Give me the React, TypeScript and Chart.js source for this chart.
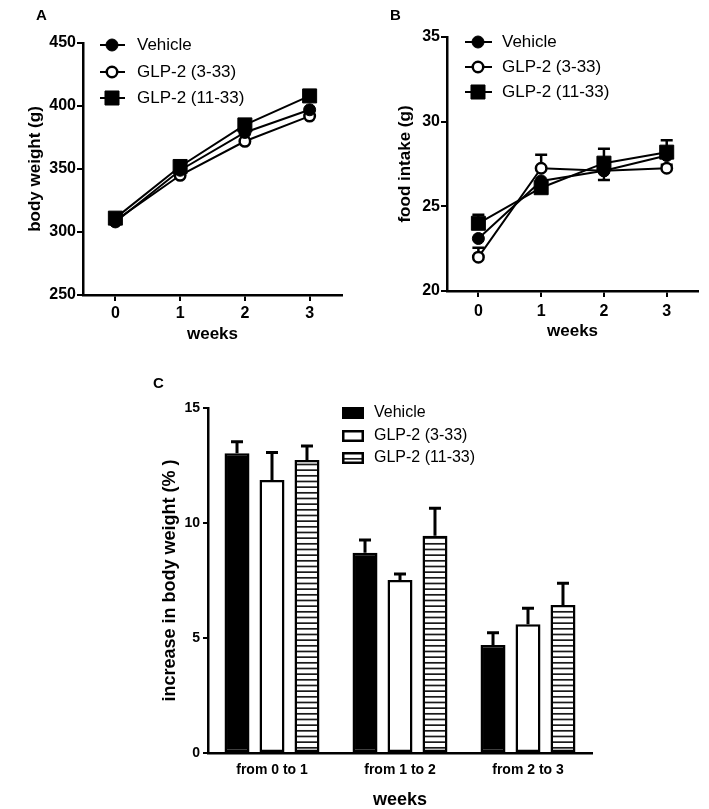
import React, { useEffect, useRef } from 'react';
import { Chart, registerables } from 'chart.js';

Chart.register(...registerables);

const FONT = "Arial, 'Liberation Sans', sans-serif";
Chart.defaults.font.family = FONT;
Chart.defaults.color = '#000';

// ---------- data ----------
const weeks = ['0', '1', '2', '3'];
const seriesNames = ['Vehicle', 'GLP-2 (3-33)', 'GLP-2 (11-33)'];

// Panel A: body weight (g)
const bwVehicle = [308, 349, 379, 397];
const bw3_33 = [309, 345, 372, 392];
const bw11_33 = [311, 352, 385, 408];

// Panel B: food intake (g)
const fiVehicle = [23.1, 26.5, 27.1, 28.0];
const fi3_33 = [22.0, 27.25, 27.1, 27.25];
const fi11_33 = [24.0, 26.1, 27.55, 28.2];
// signed: positive = bar drawn upward, negative = downward
const fiErrVehicle = [0, 0, -0.55, 0];
const fiErr3_33 = [0.55, 0.8, 0, 0.2];
const fiErr11_33 = [0.5, 0.3, 0.85, 0.7];

// Panel C: increase in body weight (%)
const periods = ['from 0 to 1', 'from 1 to 2', 'from 2 to 3'];
const incVehicle = [13.03, 8.71, 4.7];
const inc3_33 = [11.87, 7.52, 5.6];
const inc11_33 = [12.74, 9.45, 6.43];
const incErrVehicle = [0.5, 0.55, 0.53];
const incErr3_33 = [1.19, 0.26, 0.69];
const incErr11_33 = [0.61, 1.19, 0.95];

// ---------- helpers ----------
function makeHatch(): CanvasPattern | string {
  const c = document.createElement('canvas');
  c.width = 8;
  c.height = 17;
  const g = c.getContext('2d');
  if (!g) return '#888';
  g.fillStyle = '#fff';
  g.fillRect(0, 0, 8, 17);
  g.fillStyle = '#1a1a1a';
  [0.3, 5.97, 11.63].forEach((y) => g.fillRect(0, y, 8, 1.7));
  return g.createPattern(c, 'repeat') || '#888';
}

function drawPt(ctx: CanvasRenderingContext2D, ds: any, x: number, y: number) {
  const r = ds.pointRadius;
  ctx.beginPath();
  if (ds.pointStyle === 'rect') {
    const s = r * Math.SQRT1_2;
    ctx.rect(x - s, y - s, 2 * s, 2 * s);
  } else {
    ctx.arc(x, y, r, 0, Math.PI * 2);
  }
  ctx.fillStyle = ds.pointBackgroundColor;
  ctx.fill();
  ctx.lineWidth = ds.pointBorderWidth;
  ctx.strokeStyle = ds.pointBorderColor;
  ctx.stroke();
}

function lineLegend(id: string, x0: number, x1: number, mx: number, tx: number, rows: number[], fontSize: number) {
  return {
    id,
    afterDraw(chart: any) {
      const ctx: CanvasRenderingContext2D = chart.ctx;
      ctx.save();
      chart.data.datasets.forEach((ds: any, i: number) => {
        const y = rows[i];
        ctx.strokeStyle = '#000';
        ctx.lineWidth = 2;
        ctx.beginPath();
        ctx.moveTo(x0, y);
        ctx.lineTo(x1, y);
        ctx.stroke();
        drawPt(ctx, ds, mx, y);
        ctx.fillStyle = '#000';
        ctx.font = `${fontSize}px ${FONT}`;
        ctx.textAlign = 'left';
        ctx.textBaseline = 'middle';
        ctx.fillText(ds.label, tx, y);
      });
      ctx.restore();
    },
  };
}

const lineErrorBars = {
  id: 'lineErrorBars',
  beforeDatasetsDraw(chart: any) {
    const ctx: CanvasRenderingContext2D = chart.ctx;
    const yScale = chart.scales.y;
    ctx.save();
    ctx.strokeStyle = '#000';
    ctx.lineWidth = 2.5;
    chart.data.datasets.forEach((ds: any, di: number) => {
      if (!ds.errors) return;
      const meta = chart.getDatasetMeta(di);
      meta.data.forEach((pt: any, i: number) => {
        const e = ds.errors[i];
        if (!e) return;
        const y0 = yScale.getPixelForValue(ds.data[i]);
        const y1 = yScale.getPixelForValue(ds.data[i] + e);
        ctx.beginPath();
        ctx.moveTo(pt.x, y0);
        ctx.lineTo(pt.x, y1);
        ctx.moveTo(pt.x - 6, y1);
        ctx.lineTo(pt.x + 6, y1);
        ctx.stroke();
      });
    });
    ctx.restore();
  },
};

const barErrorBars = {
  id: 'barErrorBars',
  afterDatasetsDraw(chart: any) {
    const ctx: CanvasRenderingContext2D = chart.ctx;
    const yScale = chart.scales.y;
    ctx.save();
    ctx.strokeStyle = '#000';
    ctx.lineWidth = 3;
    chart.data.datasets.forEach((ds: any, di: number) => {
      const meta = chart.getDatasetMeta(di);
      meta.data.forEach((bar: any, i: number) => {
        const e = ds.errors[i];
        const y0 = yScale.getPixelForValue(ds.data[i]);
        const y1 = yScale.getPixelForValue(ds.data[i] + e);
        ctx.beginPath();
        ctx.moveTo(bar.x, y0);
        ctx.lineTo(bar.x, y1);
        ctx.moveTo(bar.x - 6, y1);
        ctx.lineTo(bar.x + 6, y1);
        ctx.stroke();
      });
    });
    ctx.restore();
  },
};

function barLegend(x: number, w: number, h: number, tx: number, rows: number[], fontSize: number) {
  return {
    id: 'barLegend',
    afterDraw(chart: any) {
      const ctx: CanvasRenderingContext2D = chart.ctx;
      ctx.save();
      chart.data.datasets.forEach((ds: any, i: number) => {
        const y = rows[i];
        ctx.fillStyle = ds.backgroundColor;
        ctx.fillRect(x, y - h / 2, w, h);
        ctx.lineWidth = 2.5;
        ctx.strokeStyle = '#000';
        ctx.strokeRect(x + 1.25, y - h / 2 + 1.25, w - 2.5, h - 2.5);
        ctx.fillStyle = '#000';
        ctx.font = `${fontSize}px ${FONT}`;
        ctx.textAlign = 'left';
        ctx.textBaseline = 'middle';
        ctx.fillText(ds.label, tx, y);
      });
      ctx.restore();
    },
  };
}

function lineDatasets(v: number[], c: number[], s: number[], ev?: number[], ec?: number[], es?: number[]) {
  const base = { borderColor: '#000', borderWidth: 2, tension: 0, pointBorderColor: '#000' };
  return [
    { ...base, label: seriesNames[0], data: v, errors: ev, pointStyle: 'circle', pointRadius: 6, pointBackgroundColor: '#000', pointBorderWidth: 1, order: 1 },
    { ...base, label: seriesNames[1], data: c, errors: ec, pointStyle: 'circle', pointRadius: 5.25, pointBackgroundColor: '#fff', pointBorderWidth: 2.5, order: 2 },
    { ...base, label: seriesNames[2], data: s, errors: es, pointStyle: 'rect', pointRadius: 9.9, pointBackgroundColor: '#000', pointBorderWidth: 1, order: 0 },
  ];
}

function lineOptions(p: {
  padTop: number; padRight: number; yWidth: number; xHeight: number;
  yTitle: string; yTitlePad: number; xTitlePad: number; xTickPad: number;
  min: number; max: number; step: number;
}) {
  return {
    responsive: false,
    animation: false as const,
    events: [],
    layout: { padding: { left: 0, top: p.padTop, right: p.padRight, bottom: 0 } },
    plugins: { legend: { display: false }, tooltip: { enabled: false } },
    scales: {
      x: {
        type: 'category' as const,
        offset: true,
        grid: { offset: false, drawOnChartArea: false, color: '#000', lineWidth: 2, tickLength: 6 },
        border: { color: '#000', width: 2.5 },
        ticks: { color: '#000', font: { size: 16, weight: 'bold' as const }, padding: p.xTickPad, maxRotation: 0 },
        title: { display: true, text: 'weeks', color: '#000', font: { size: 17, weight: 'bold' as const, lineHeight: 1.2 }, padding: { top: 0, bottom: p.xTitlePad } },
        afterFit: (s: any) => { s.height = p.xHeight; },
      },
      y: {
        min: p.min,
        max: p.max,
        grid: { drawOnChartArea: false, color: '#000', lineWidth: 2, tickLength: 6 },
        border: { color: '#000', width: 2.5 },
        ticks: { stepSize: p.step, color: '#000', font: { size: 16, weight: 'bold' as const }, padding: 1 },
        title: { display: true, text: p.yTitle, color: '#000', font: { size: 17, weight: 'bold' as const, lineHeight: 1.2 }, padding: { top: p.yTitlePad, bottom: 0 } },
        afterFit: (s: any) => { s.width = p.yWidth; },
      },
    },
  };
}

const panelLabel = (left: number, top: number): React.CSSProperties => ({
  position: 'absolute',
  left,
  top,
  fontFamily: FONT,
  fontWeight: 'bold',
  fontSize: 15,
  lineHeight: '18px',
  color: '#000',
});

export default function App() {
  const refA = useRef<HTMLCanvasElement>(null);
  const refB = useRef<HTMLCanvasElement>(null);
  const refC = useRef<HTMLCanvasElement>(null);

  useEffect(() => {
    const charts: Chart[] = [];

    charts.push(
      new Chart(refA.current as HTMLCanvasElement, {
        type: 'line',
        data: { labels: weeks, datasets: lineDatasets(bwVehicle, bw3_33, bw11_33) as any },
        options: lineOptions({
          padTop: 43, padRight: 12, yWidth: 83, xHeight: 55,
          yTitle: 'body weight (g)', yTitlePad: 25, xTitlePad: 5, xTickPad: 2.5,
          min: 250, max: 450, step: 50,
        }) as any,
        plugins: [lineLegend('legendA', 100, 125, 112, 137, [45, 72, 98], 17)],
      })
    );

    charts.push(
      new Chart(refB.current as HTMLCanvasElement, {
        type: 'line',
        data: {
          labels: weeks,
          datasets: lineDatasets(fiVehicle, fi3_33, fi11_33, fiErrVehicle, fiErr3_33, fiErr11_33) as any,
        },
        options: lineOptions({
          padTop: 37, padRight: 3, yWidth: 93, xHeight: 59,
          yTitle: 'food intake (g)', yTitlePad: 41, xTitlePad: 8, xTickPad: 4.5,
          min: 20, max: 35, step: 5,
        }) as any,
        plugins: [lineErrorBars, lineLegend('legendB', 111, 138, 124, 148, [42, 67, 92], 17)],
      })
    );

    const hatch = makeHatch();
    const barBase = {
      borderColor: '#000',
      borderWidth: 2.5,
      borderSkipped: false,
      barPercentage: 0.714,
      categoryPercentage: 0.82,
    };
    charts.push(
      new Chart(refC.current as HTMLCanvasElement, {
        type: 'bar',
        data: {
          labels: periods,
          datasets: [
            { ...barBase, label: seriesNames[0], data: incVehicle, errors: incErrVehicle, backgroundColor: '#000' },
            { ...barBase, label: seriesNames[1], data: inc3_33, errors: incErr3_33, backgroundColor: '#fff' },
            { ...barBase, label: seriesNames[2], data: inc11_33, errors: incErr11_33, backgroundColor: hatch },
          ] as any,
        },
        options: {
          responsive: false,
          animation: false,
          events: [],
          layout: { padding: { left: 0, top: 58, right: 117, bottom: 0 } },
          plugins: { legend: { display: false }, tooltip: { enabled: false } },
          scales: {
            x: {
              grid: { drawOnChartArea: false, drawTicks: false, color: '#000' },
              border: { color: '#000', width: 2.5 },
              ticks: { color: '#000', font: { size: 14, weight: 'bold' }, padding: 9, maxRotation: 0 },
              title: { display: true, text: 'weeks', color: '#000', font: { size: 18, weight: 'bold', lineHeight: 1 }, padding: { top: 0, bottom: 0 } },
              afterFit: (s: any) => { s.height = 56; },
            },
            y: {
              min: 0,
              max: 15,
              grid: { drawOnChartArea: false, color: '#000', lineWidth: 2, tickLength: 5 },
              border: { color: '#000', width: 2.5 },
              ticks: { stepSize: 5, color: '#000', font: { size: 14, weight: 'bold' }, padding: 3 },
              title: { display: true, text: 'increase in body weight (% )', color: '#000', font: { size: 18, weight: 'bold', lineHeight: 1.2 }, padding: { top: 159, bottom: 0 } },
              afterFit: (s: any) => { s.width = 208; },
            },
          },
        } as any,
        plugins: [barErrorBars, barLegend(342, 22, 12, 374, [63, 86, 108], 16)],
      })
    );

    return () => charts.forEach((c) => c.destroy());
  }, []);

  return (
    <div>
      <canvas ref={refA} width={354} height={350} style={{ position: 'absolute', left: 0, top: 0 }} />
      <canvas ref={refB} width={355} height={350} style={{ position: 'absolute', left: 354, top: 0 }} />
      <canvas ref={refC} width={709} height={459} style={{ position: 'absolute', left: 0, top: 350 }} />
      <div style={panelLabel(36, 6)}>A</div>
      <div style={panelLabel(390, 6)}>B</div>
      <div style={panelLabel(153, 374)}>C</div>
    </div>
  );
}
